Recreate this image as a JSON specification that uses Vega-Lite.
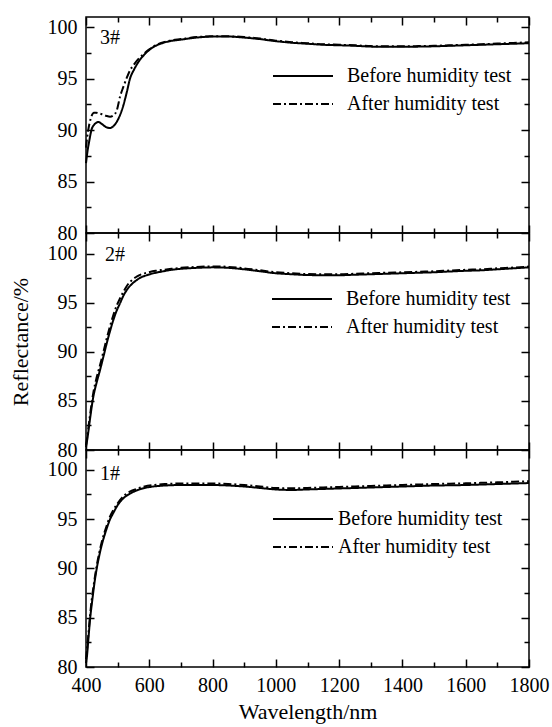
{
  "$schema": "https://vega.github.io/schema/vega-lite/v6.json",
  "padding": {"left": 8, "top": 15, "right": 5, "bottom": 5},
  "spacing": 0,
  "bounds": "flush",
  "datasets": {
    "p3": [
      {"nm":400,"before":86.8,"after":88.3},{"nm":405,"before":88.0,"after":89.6},{"nm":410,"before":88.9,"after":90.5},{"nm":418,"before":90.1,"after":91.4},{"nm":425,"before":90.5,"after":91.7},{"nm":432,"before":90.7,"after":91.7},{"nm":439,"before":90.8,"after":91.65},{"nm":450,"before":90.6,"after":91.55},{"nm":463,"before":90.3,"after":91.4},{"nm":476,"before":90.2,"after":91.3},{"nm":487,"before":90.4,"after":91.45},{"nm":497,"before":90.8,"after":91.9},{"nm":508,"before":91.5,"after":93.3},{"nm":518,"before":92.4,"after":94.2},{"nm":529,"before":93.7,"after":95.1},{"nm":539,"before":95.0,"after":95.8},{"nm":552,"before":95.9,"after":96.4},{"nm":565,"before":96.6,"after":96.9},{"nm":580,"before":97.2,"after":97.35},{"nm":600,"before":97.8,"after":97.85},{"nm":620,"before":98.2,"after":98.25},{"nm":640,"before":98.45,"after":98.5},{"nm":665,"before":98.65,"after":98.7},{"nm":700,"before":98.8,"after":98.85},{"nm":750,"before":99.0,"after":99.05},{"nm":800,"before":99.1,"after":99.12},{"nm":850,"before":99.1,"after":99.12},{"nm":900,"before":99.0,"after":99.05},{"nm":950,"before":98.85,"after":98.9},{"nm":1000,"before":98.65,"after":98.7},{"nm":1050,"before":98.5,"after":98.55},{"nm":1100,"before":98.4,"after":98.45},{"nm":1150,"before":98.3,"after":98.35},{"nm":1200,"before":98.25,"after":98.3},{"nm":1250,"before":98.2,"after":98.25},{"nm":1300,"before":98.12,"after":98.17},{"nm":1350,"before":98.1,"after":98.15},{"nm":1400,"before":98.1,"after":98.15},{"nm":1450,"before":98.12,"after":98.17},{"nm":1500,"before":98.15,"after":98.2},{"nm":1550,"before":98.2,"after":98.25},{"nm":1600,"before":98.25,"after":98.3},{"nm":1650,"before":98.3,"after":98.35},{"nm":1700,"before":98.35,"after":98.42},{"nm":1750,"before":98.4,"after":98.48},{"nm":1800,"before":98.45,"after":98.55}
    ],
    "p2": [
      {"nm":400,"before":80.3,"after":80.5},{"nm":405,"before":81.3,"after":81.6},{"nm":412,"before":83.0,"after":83.4},{"nm":423,"before":85.4,"after":85.8},{"nm":433,"before":86.8,"after":87.3},{"nm":444,"before":88.1,"after":88.6},{"nm":455,"before":89.5,"after":90.0},{"nm":465,"before":90.8,"after":91.3},{"nm":475,"before":92.0,"after":92.5},{"nm":486,"before":93.2,"after":93.7},{"nm":497,"before":94.2,"after":94.7},{"nm":507,"before":94.9,"after":95.4},{"nm":518,"before":95.7,"after":96.1},{"nm":529,"before":96.3,"after":96.7},{"nm":545,"before":96.9,"after":97.3},{"nm":560,"before":97.3,"after":97.65},{"nm":575,"before":97.6,"after":97.9},{"nm":592,"before":97.8,"after":98.05},{"nm":620,"before":98.05,"after":98.25},{"nm":644,"before":98.2,"after":98.35},{"nm":670,"before":98.35,"after":98.45},{"nm":700,"before":98.45,"after":98.55},{"nm":750,"before":98.55,"after":98.65},{"nm":800,"before":98.6,"after":98.7},{"nm":850,"before":98.55,"after":98.65},{"nm":900,"before":98.4,"after":98.5},{"nm":950,"before":98.2,"after":98.3},{"nm":1000,"before":98.0,"after":98.1},{"nm":1050,"before":97.9,"after":98.0},{"nm":1100,"before":97.82,"after":97.92},{"nm":1150,"before":97.8,"after":97.9},{"nm":1200,"before":97.8,"after":97.9},{"nm":1250,"before":97.85,"after":97.95},{"nm":1300,"before":97.9,"after":98.0},{"nm":1350,"before":97.95,"after":98.05},{"nm":1400,"before":98.0,"after":98.1},{"nm":1450,"before":98.05,"after":98.15},{"nm":1500,"before":98.1,"after":98.2},{"nm":1550,"before":98.18,"after":98.28},{"nm":1600,"before":98.25,"after":98.35},{"nm":1650,"before":98.3,"after":98.4},{"nm":1700,"before":98.4,"after":98.5},{"nm":1750,"before":98.5,"after":98.58},{"nm":1800,"before":98.6,"after":98.68}
    ],
    "p1": [
      {"nm":400,"before":80.4,"after":80.8},{"nm":402,"before":80.8,"after":81.4},{"nm":408,"before":83.0,"after":83.5},{"nm":413,"before":84.9,"after":85.3},{"nm":418,"before":86.3,"after":86.8},{"nm":423,"before":87.6,"after":88.0},{"nm":428,"before":88.8,"after":89.1},{"nm":434,"before":90.0,"after":90.3},{"nm":442,"before":91.3,"after":91.6},{"nm":450,"before":92.4,"after":92.7},{"nm":458,"before":93.3,"after":93.6},{"nm":465,"before":94.0,"after":94.3},{"nm":475,"before":94.9,"after":95.2},{"nm":486,"before":95.6,"after":95.9},{"nm":500,"before":96.4,"after":96.6},{"nm":518,"before":97.1,"after":97.3},{"nm":540,"before":97.6,"after":97.8},{"nm":560,"before":97.9,"after":98.05},{"nm":585,"before":98.15,"after":98.3},{"nm":613,"before":98.3,"after":98.45},{"nm":650,"before":98.4,"after":98.55},{"nm":700,"before":98.45,"after":98.6},{"nm":750,"before":98.45,"after":98.6},{"nm":800,"before":98.45,"after":98.6},{"nm":850,"before":98.4,"after":98.55},{"nm":900,"before":98.3,"after":98.45},{"nm":950,"before":98.15,"after":98.3},{"nm":1000,"before":98.0,"after":98.15},{"nm":1050,"before":97.95,"after":98.12},{"nm":1100,"before":98.0,"after":98.15},{"nm":1150,"before":98.05,"after":98.2},{"nm":1200,"before":98.1,"after":98.25},{"nm":1250,"before":98.15,"after":98.3},{"nm":1300,"before":98.2,"after":98.35},{"nm":1350,"before":98.25,"after":98.4},{"nm":1400,"before":98.3,"after":98.45},{"nm":1450,"before":98.35,"after":98.5},{"nm":1500,"before":98.4,"after":98.55},{"nm":1550,"before":98.42,"after":98.58},{"nm":1600,"before":98.45,"after":98.62},{"nm":1650,"before":98.5,"after":98.67},{"nm":1700,"before":98.55,"after":98.72},{"nm":1750,"before":98.6,"after":98.78},{"nm":1800,"before":98.65,"after":98.83}
    ]
  },
  "config": {
    "font": "Liberation Serif",
    "view": {"stroke": "black", "strokeWidth": 1.5},
    "axis": {
      "domain": false, "grid": false, "ticks": true, "tickOpacity": 1,
      "labelFont": "Liberation Serif", "labelFontSize": 20, "labelColor": "black",
      "tickColor": "black", "tickWidth": 1.5, "format": "d",
      "titleFont": "Liberation Serif", "titleFontSize": 22, "titleFontWeight": "normal", "titleColor": "black"
    },
    "legend": {
      "orient": "none", "title": null, "symbolType": "stroke", "symbolSize": 3600,
      "symbolStrokeWidth": 2, "symbolStrokeColor": "black", "labelLimit": 0,
      "labelFont": "Liberation Serif", "labelFontSize": 20, "labelColor": "black",
      "clipHeight": 20, "rowPadding": 8, "labelOffset": 13, "padding": 0
    }
  },
  "resolve": {
    "scale": {"x": "independent", "y": "independent", "strokeDash": "independent"},
    "legend": {"strokeDash": "independent"}
  },
  "vconcat": [
    {
      "width": 443, "height": 216,
      "resolve": {"axis": {"x": "independent", "y": "independent"}},
      "layer": [
        {
          "data": {"name": "p3"},
          "transform": [{"fold": ["before", "after"], "as": ["series", "R"]}],
          "mark": {"type": "line", "color": "black", "strokeWidth": 2, "interpolate": "monotone"},
          "encoding": {
            "x": {"field": "nm", "type": "quantitative", "scale": {"domain": [400, 1800], "nice": false, "zero": false},
                  "axis": {"orient": "bottom", "values": [400,500,600,700,800,900,1000,1100,1200,1300,1400,1500,1600,1700,1800], "labels": false, "title": null,
                           "ticks": true, "tickColor": "black", "tickSize": {"condition": {"test": "datum.value % 200 === 0", "value": -8}, "value": -5}}},
            "y": {"field": "R", "type": "quantitative", "scale": {"domain": [80, 101], "nice": false, "zero": false},
                  "axis": {"orient": "left", "values": [80,82.5,85,87.5,90,92.5,95,97.5,100], "title": null, "labelPadding": 17,
                           "labelExpr": "datum.value % 5 === 0 ? datum.label : ''",
                           "ticks": true, "tickColor": "black", "tickSize": {"condition": {"test": "datum.value % 5 === 0", "value": -8}, "value": -5}}},
            "strokeDash": {"field": "series", "type": "nominal",
                           "scale": {"domain": ["before", "after"], "range": [[1, 0], [8, 3, 2, 3]]},
                           "legend": {"legendX": 186, "legendY": 49, "labelExpr": "datum.label === 'before' ? 'Before humidity test' : 'After humidity test'"}}
          }
        },
        {
          "data": {"values": [{}]},
          "mark": {"type": "text", "font": "Liberation Serif", "fontSize": 20, "align": "left", "baseline": "middle", "color": "black"},
          "encoding": {
            "x": {"datum": 444, "type": "quantitative",
                  "axis": {"orient": "top", "values": [400,500,600,700,800,900,1000,1100,1200,1300,1400,1500,1600,1700,1800], "labels": false, "title": null,
                           "ticks": true, "tickColor": "black", "tickSize": {"condition": {"test": "datum.value % 200 === 0", "value": -8}, "value": -5}}},
            "y": {"datum": 99.0, "type": "quantitative",
                  "axis": {"orient": "right", "values": [80,82.5,85,87.5,90,92.5,95,97.5,100], "labels": false, "title": null,
                           "ticks": true, "tickColor": "black", "tickSize": {"condition": {"test": "datum.value % 5 === 0", "value": -8}, "value": -5}}},
            "text": {"value": "3#"}
          }
        }
      ]
    },
    {
      "width": 443, "height": 217,
      "resolve": {"axis": {"x": "independent", "y": "independent"}},
      "layer": [
        {
          "data": {"name": "p2"},
          "transform": [{"fold": ["before", "after"], "as": ["series", "R"]}],
          "mark": {"type": "line", "color": "black", "strokeWidth": 2, "interpolate": "monotone"},
          "encoding": {
            "x": {"field": "nm", "type": "quantitative", "scale": {"domain": [400, 1800], "nice": false, "zero": false},
                  "axis": {"orient": "bottom", "values": [400,500,600,700,800,900,1000,1100,1200,1300,1400,1500,1600,1700,1800], "labels": false, "title": null,
                           "ticks": true, "tickColor": "black", "tickSize": {"condition": {"test": "datum.value % 200 === 0", "value": -8}, "value": -5}}},
            "y": {"field": "R", "type": "quantitative", "scale": {"domain": [80, 102.1], "nice": false, "zero": false},
                  "axis": {"orient": "left", "values": [80,82.5,85,87.5,90,92.5,95,97.5,100], "title": "Reflectance/%", "titlePadding": 15, "labelPadding": 17,
                           "labelExpr": "datum.value % 5 === 0 ? datum.label : ''",
                           "ticks": true, "tickColor": "black", "tickSize": {"condition": {"test": "datum.value % 5 === 0", "value": -8}, "value": -5}}},
            "strokeDash": {"field": "series", "type": "nominal",
                           "scale": {"domain": ["before", "after"], "range": [[1, 0], [8, 3, 2, 3]]},
                           "legend": {"legendX": 185, "legendY": 56, "labelExpr": "datum.label === 'before' ? 'Before humidity test' : 'After humidity test'"}}
          }
        },
        {
          "data": {"values": [{}]},
          "mark": {"type": "text", "font": "Liberation Serif", "fontSize": 20, "align": "left", "baseline": "middle", "color": "black"},
          "encoding": {
            "x": {"datum": 460, "type": "quantitative",
                  "axis": {"orient": "top", "values": [400,500,600,700,800,900,1000,1100,1200,1300,1400,1500,1600,1700,1800], "labels": false, "title": null,
                           "ticks": true, "tickColor": "black", "tickSize": {"condition": {"test": "datum.value % 200 === 0", "value": -8}, "value": -5}}},
            "y": {"datum": 99.9, "type": "quantitative",
                  "axis": {"orient": "right", "values": [80,82.5,85,87.5,90,92.5,95,97.5,100], "labels": false, "title": null,
                           "ticks": true, "tickColor": "black", "tickSize": {"condition": {"test": "datum.value % 5 === 0", "value": -8}, "value": -5}}},
            "text": {"value": "2#"}
          }
        }
      ]
    },
    {
      "width": 443, "height": 217,
      "resolve": {"axis": {"x": "independent", "y": "independent"}},
      "layer": [
        {
          "data": {"name": "p1"},
          "transform": [{"fold": ["before", "after"], "as": ["series", "R"]}],
          "mark": {"type": "line", "color": "black", "strokeWidth": 2, "interpolate": "monotone"},
          "encoding": {
            "x": {"field": "nm", "type": "quantitative", "scale": {"domain": [400, 1800], "nice": false, "zero": false},
                  "axis": {"orient": "bottom", "values": [400,500,600,700,800,900,1000,1100,1200,1300,1400,1500,1600,1700,1800], "title": "Wavelength/nm", "labelPadding": 16, "titlePadding": 6,
                           "labelExpr": "datum.value % 200 === 0 ? datum.label : ''", "labelFlush": false,
                           "ticks": true, "tickColor": "black", "tickSize": {"condition": {"test": "datum.value % 200 === 0", "value": -8}, "value": -5}}},
            "y": {"field": "R", "type": "quantitative", "scale": {"domain": [80, 102], "nice": false, "zero": false},
                  "axis": {"orient": "left", "values": [80,82.5,85,87.5,90,92.5,95,97.5,100], "title": null, "labelPadding": 17,
                           "labelExpr": "datum.value % 5 === 0 ? datum.label : ''",
                           "ticks": true, "tickColor": "black", "tickSize": {"condition": {"test": "datum.value % 5 === 0", "value": -8}, "value": -5}}},
            "strokeDash": {"field": "series", "type": "nominal",
                           "scale": {"domain": ["before", "after"], "range": [[1, 0], [8, 3, 2, 3]]},
                           "legend": {"legendX": 186, "legendY": 59, "labelOffset": 4, "labelExpr": "datum.label === 'before' ? 'Before humidity test' : 'After humidity test'"}}
          }
        },
        {
          "data": {"values": [{}]},
          "mark": {"type": "text", "font": "Liberation Serif", "fontSize": 20, "align": "left", "baseline": "middle", "color": "black"},
          "encoding": {
            "x": {"datum": 444, "type": "quantitative",
                  "axis": {"orient": "top", "values": [400,500,600,700,800,900,1000,1100,1200,1300,1400,1500,1600,1700,1800], "labels": false, "title": null,
                           "ticks": true, "tickColor": "black", "tickSize": {"condition": {"test": "datum.value % 200 === 0", "value": -8}, "value": -5}}},
            "y": {"datum": 99.6, "type": "quantitative",
                  "axis": {"orient": "right", "values": [80,82.5,85,87.5,90,92.5,95,97.5,100], "labels": false, "title": null,
                           "ticks": true, "tickColor": "black", "tickSize": {"condition": {"test": "datum.value % 5 === 0", "value": -8}, "value": -5}}},
            "text": {"value": "1#"}
          }
        }
      ]
    }
  ]
}
